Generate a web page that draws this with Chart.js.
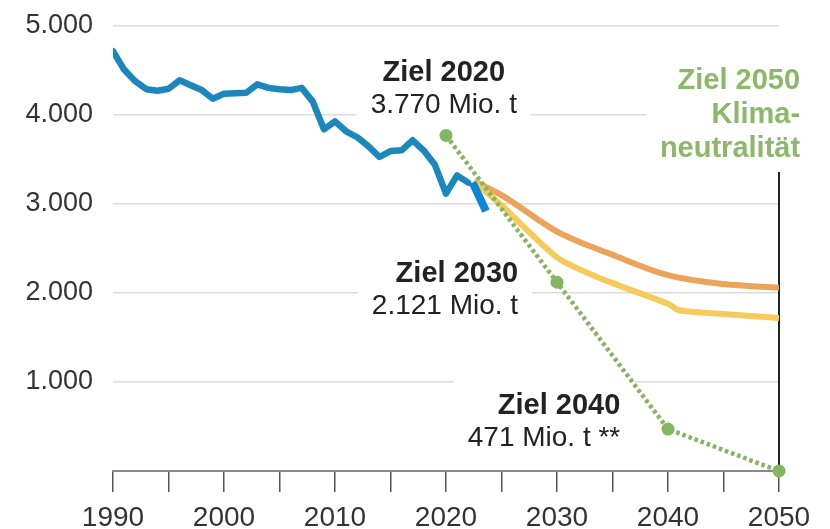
<!DOCTYPE html>
<html>
<head>
<meta charset="utf-8">
<script src="https://cdn.jsdelivr.net/npm/chart.js@4/dist/chart.umd.min.js"></script>
<style>
  html, body { margin: 0; padding: 0; background: #fff; }
  #wrap { width: 830px; height: 529px; }
</style>
</head>
<body>
<div id="wrap"><canvas id="chart"></canvas></div>
<script>
// Emissionen (Mio. t)
const years = [1990, 1991, 1992, 1993, 1994, 1995, 1996, 1997, 1998, 1999,
  2000, 2001, 2002, 2003, 2004, 2005, 2006, 2007, 2008, 2009,
  2010, 2011, 2012, 2013, 2014, 2015, 2016, 2017, 2018, 2019,
  2020, 2021, 2022];
const emissions = [4716, 4510, 4380, 4290, 4272, 4295, 4390, 4335, 4280, 4183,
  4240, 4245, 4250, 4345, 4305, 4290, 4280, 4305, 4150, 3839,
  3929, 3817, 3750, 3650, 3528, 3595, 3603, 3716, 3600, 3440,
  3116, 3322, 3240];

const estimateYears = [2022.4, 2023.6];
const estimateValues = [3240, 2920];

const orangeYears = [2022.5, 2025, 2030, 2035, 2040, 2045, 2050];
const orangeValues = [3255, 3100, 2690, 2430, 2200, 2100, 2060];

const yellowYears = [2022.5, 2025, 2030, 2034, 2040, 2041, 2045, 2050];
const yellowValues = [3255, 2985, 2400, 2160, 1880, 1806, 1765, 1720];

const targetYears = [2020, 2030, 2040, 2050];
const targetValues = [3770, 2121, 471, 0];

const yTickLabels = ['', '1.000', '2.000', '3.000', '4.000', '5.000'];

const notes = [
  { lines: ['Ziel 2020', '3.770 Mio. t'], x: 2019.8, y: 4380, align: 'center', color: '#222' },
  { lines: ['Ziel 2030', '2.121 Mio. t'], x: 2026.5, y: 2124, align: 'right', color: '#222' },
  { lines: ['Ziel 2040', '471 Mio. t **'], x: 2035.7, y: 642, align: 'right', color: '#222' },
  { lines: ['Ziel 2050', 'Klima-', 'neutralität'], x: 2051.9, y: 4292, align: 'right', color: '#8cb86b', allBold: true }
];

const FONT = "'Liberation Sans', Arial, Helvetica, sans-serif";
const GREEN = '#85b560';

function pts(xs, ys) {
  return xs.map((x, i) => ({ x: x, y: ys[i] }));
}

const notesPlugin = {
  id: 'notes',
  beforeDatasetsDraw(chart) {
    const { ctx, scales: { x, y }, chartArea } = chart;
    ctx.save();
    notes.forEach(n => {
      const px = x.getPixelForValue(n.x);
      const py = y.getPixelForValue(n.y);
      let w = 0;
      n.lines.forEach((t, i) => {
        ctx.font = (i === 0 || n.allBold ? 'bold 29px ' : '28px ') + FONT;
        w = Math.max(w, ctx.measureText(t).width);
      });
      let left = n.align === 'center' ? px - w / 2 : px - w;
      const lh = n.allBold ? 34 : 32;
      ctx.fillStyle = '#fff';
      ctx.fillRect(left - 14, py - 21 - 14, w + 28, 21 + 14 + lh * (n.lines.length - 1) + 10);
    });
    // Ziel-2050 Markierung
    const x50 = x.getPixelForValue(2050);
    ctx.strokeStyle = '#222';
    ctx.lineWidth = 2;
    ctx.beginPath();
    ctx.moveTo(x50, y.getPixelForValue(3360));
    ctx.lineTo(x50, chartArea.bottom);
    ctx.stroke();
    ctx.restore();
  },
  afterDatasetsDraw(chart) {
    const { ctx, scales: { x, y } } = chart;
    ctx.save();
    ctx.textBaseline = 'alphabetic';
    notes.forEach(n => {
      const px = x.getPixelForValue(n.x);
      const py = y.getPixelForValue(n.y);
      const lh = n.allBold ? 34 : 32;
      ctx.fillStyle = n.color;
      ctx.textAlign = n.align;
      n.lines.forEach((t, i) => {
        ctx.font = (i === 0 || n.allBold ? 'bold 29px ' : '28px ') + FONT;
        ctx.fillText(t, px, py + i * lh);
      });
    });
    ctx.restore();
  }
};

new Chart(document.getElementById('chart'), {
  type: 'line',
  data: {
    datasets: [
      {
        data: pts(targetYears, targetValues),
        borderColor: GREEN,
        borderWidth: 4.5,
        borderDash: [3.5, 3],
        pointRadius: 6.5,
        pointBackgroundColor: GREEN,
        pointBorderWidth: 0,
        clip: false
      },
      {
        data: pts(estimateYears, estimateValues),
        borderColor: '#0c87d8',
        borderWidth: 8,
        borderCapStyle: 'butt',
        pointRadius: 0
      },
      {
        data: pts(years, emissions),
        borderColor: '#1b87bd',
        borderWidth: 6.5,
        borderJoinStyle: 'round',
        borderCapStyle: 'round',
        pointRadius: 0
      },
      {
        data: pts(yellowYears, yellowValues),
        borderColor: '#f6cb5c',
        borderWidth: 6,
        borderJoinStyle: 'round',
        tension: 0.25,
        pointRadius: 0
      },
      {
        data: pts(orangeYears, orangeValues),
        borderColor: '#eca35a',
        borderWidth: 6,
        cubicInterpolationMode: 'monotone',
        pointRadius: 0
      }
    ]
  },
  options: {
    responsive: true,
    maintainAspectRatio: false,
    animation: false,
    devicePixelRatio: 1,
    layout: { padding: { top: 26, right: 51, left: 0, bottom: 0 } },
    plugins: {
      legend: { display: false },
      tooltip: { enabled: false }
    },
    scales: {
      x: {
        type: 'linear',
        min: 1990,
        max: 2050,
        afterFit: s => { s.height = 58; },
        ticks: {
          stepSize: 5,
          autoSkip: false,
          maxRotation: 0,
          padding: 9,
          color: '#333',
          font: { family: FONT, size: 28 },
          callback: v => (v % 10 === 0 ? String(v) : '')
        },
        grid: { drawOnChartArea: false, tickLength: 21, color: '#555', lineWidth: 1.5 },
        border: { color: '#888', width: 2 }
      },
      y: {
        min: 0,
        max: 5000,
        afterFit: s => { s.width = 113; },
        ticks: {
          stepSize: 1000,
          padding: 0,
          color: '#333',
          font: { family: FONT, size: 27 },
          callback: (v, i) => yTickLabels[i]
        },
        grid: { color: '#dcdcdc', lineWidth: 1.5, tickLength: 20, tickColor: 'rgba(0,0,0,0)' },
        border: { display: false }
      }
    }
  },
  plugins: [notesPlugin]
});
</script>
</body>
</html>
